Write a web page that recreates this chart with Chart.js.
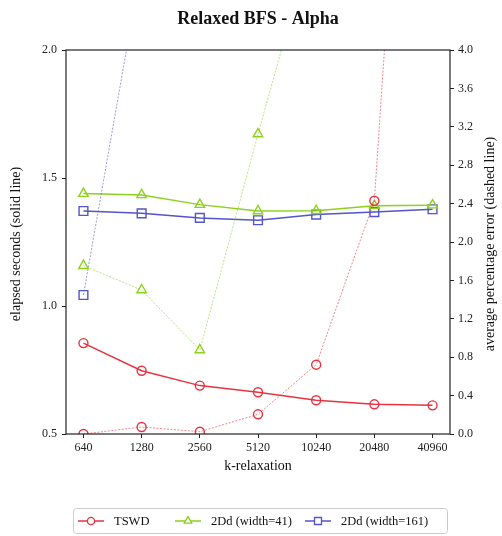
<!DOCTYPE html>
<html>
<head>
<meta charset="utf-8">
<title>Relaxed BFS - Alpha</title>
<script src="https://cdn.jsdelivr.net/npm/chart.js@4/dist/chart.umd.min.js"></script>
<style>
  html, body { margin: 0; padding: 0; background: #fff; }
  canvas { display: block; }
</style>
</head>
<body>
<canvas id="bfsChart" width="502" height="536"></canvas>
<script>
const kValues = ['640', '1280', '2560', '5120', '10240', '20480', '40960'];

// elapsed seconds (left axis, solid lines)
const tswdTime = [0.855, 0.747, 0.689, 0.663, 0.632, 0.616, 0.612];
const w41Time = [1.439, 1.434, 1.396, 1.371, 1.372, 1.392, 1.394];
const w161Time = [1.371, 1.362, 1.344, 1.335, 1.357, 1.367, 1.378];

// average percentage error (right axis, dashed lines)
const tswdError = [0.0, 0.073, 0.024, 0.205, 0.722, 2.43, 11.5];
const w41Error = [1.753, 1.5, 0.875, 3.125, 5.3, null, null];
const w161Error = [1.448, 4.9, null, null, null, null, null];

const seriesNames = ['TSWD', '2Dd (width=41)', '2Dd (width=161)'];
const timeTicks = [0.5, 1.0, 1.5, 2.0];
const errorTicks = [0.0, 0.4, 0.8, 1.2, 1.6, 2.0, 2.4, 2.8, 3.2, 3.6, 4.0];

const COLORS = ['#e5333f', '#8cd11e', '#5454cc'];
const FADED = ['rgba(229, 51, 63, 0.75)', 'rgba(140, 209, 30, 0.75)', 'rgba(84, 84, 204, 0.75)'];
const MARKERS = ['circle', 'triangle', 'rect'];
const RADII = [4.5, 5.5, 6.2];
const FONT = "'Liberation Serif', 'DejaVu Serif', serif";

function toPoints(values) {
  return values.map((v, i) => ({ x: i, y: v }));
}

function solidSet(idx, values) {
  return {
    label: seriesNames[idx],
    data: toPoints(values),
    yAxisID: 'yTime',
    borderColor: COLORS[idx],
    backgroundColor: 'rgba(0,0,0,0)',
    borderWidth: 1.5,
    pointStyle: MARKERS[idx],
    pointRadius: RADII[idx],
    pointBorderWidth: 1.4,
    pointBorderColor: COLORS[idx],
    pointBackgroundColor: 'rgba(0,0,0,0)',
    tension: 0,
  };
}

function dashedSet(idx, values) {
  return {
    label: seriesNames[idx] + ' error',
    data: toPoints(values),
    yAxisID: 'yError',
    borderColor: FADED[idx],
    backgroundColor: 'rgba(0,0,0,0)',
    borderWidth: 0.8,
    borderDash: [2, 1.5],
    pointStyle: MARKERS[idx],
    pointRadius: RADII[idx],
    pointBorderWidth: 1.4,
    pointBorderColor: COLORS[idx],
    pointBackgroundColor: 'rgba(0,0,0,0)',
    tension: 0,
    spanGaps: false,
  };
}

// title, frame, rotated axis titles and the boxed legend
const decorations = {
  id: 'decorations',
  afterDatasetsDraw(chart) {
    const { ctx, chartArea: a } = chart;
    ctx.save();
    ctx.strokeStyle = '#222';
    ctx.lineWidth = 1.2;
    ctx.strokeRect(a.left, a.top, a.right - a.left, a.bottom - a.top);
    ctx.restore();
  },
  afterDraw(chart) {
    const { ctx, chartArea: a } = chart;
    ctx.save();
    ctx.fillStyle = '#111';
    ctx.textAlign = 'center';
    ctx.textBaseline = 'middle';

    ctx.font = 'bold 18px ' + FONT;
    ctx.fillText('Relaxed BFS - Alpha', (a.left + a.right) / 2, 19);

    ctx.font = '14px ' + FONT;
    ctx.fillText('k-relaxation', (a.left + a.right) / 2, 466);

    const midY = (a.top + a.bottom) / 2 + 2;
    ctx.save();
    ctx.translate(16, midY);
    ctx.rotate(-Math.PI / 2);
    ctx.fillText('elapsed seconds (solid line)', 0, 0);
    ctx.restore();

    ctx.save();
    ctx.translate(490, midY);
    ctx.rotate(-Math.PI / 2);
    ctx.fillText('average percentage error (dashed line)', 0, 0);
    ctx.restore();

    // legend
    ctx.strokeStyle = '#cccccc';
    ctx.lineWidth = 1;
    ctx.beginPath();
    ctx.roundRect(73.5, 508.5, 374, 25, 3);
    ctx.stroke();

    const starts = [78, 175, 305];
    const ly = 521;
    ctx.font = '12.5px ' + FONT;
    ctx.textAlign = 'left';
    seriesNames.forEach((name, i) => {
      const x0 = starts[i];
      ctx.strokeStyle = COLORS[i];
      ctx.lineWidth = 1.5;
      ctx.beginPath();
      ctx.moveTo(x0, ly);
      ctx.lineTo(x0 + 26, ly);
      ctx.stroke();
      ctx.fillStyle = '#fff';
      ctx.lineWidth = 1.3;
      Chart.helpers.drawPoint(ctx, {
        pointStyle: MARKERS[i],
        radius: RADII[i] * 0.8,
        borderWidth: 1.3,
        rotation: 0,
      }, x0 + 13, ly);
      ctx.fillStyle = '#111';
      ctx.fillText(name, x0 + 36, ly + 0.5);
    });
    ctx.restore();
  }
};

const tickFont = { family: FONT, size: 12 };

new Chart(document.getElementById('bfsChart'), {
  type: 'line',
  data: {
    datasets: [
      dashedSet(0, tswdError),
      dashedSet(1, w41Error),
      dashedSet(2, w161Error),
      solidSet(0, tswdTime),
      solidSet(1, w41Time),
      solidSet(2, w161Time),
    ]
  },
  options: {
    responsive: false,
    animation: false,
    layout: { padding: { top: 50, left: 0, right: 0, bottom: 0 } },
    plugins: {
      legend: { display: false },
      title: { display: false },
      tooltip: { enabled: false }
    },
    scales: {
      x: {
        type: 'linear',
        min: -0.3,
        max: 6.3,
        afterBuildTicks: s => { s.ticks = kValues.map((_, i) => ({ value: i })); },
        afterFit: s => { s.height = 102; },
        ticks: {
          callback: v => kValues[v],
          font: tickFont,
          color: '#222',
          padding: 3,
          maxRotation: 0,
        },
        grid: { drawOnChartArea: false, tickLength: 4, color: '#222' },
        border: { display: false }
      },
      yTime: {
        type: 'linear',
        position: 'left',
        min: 0.5,
        max: 2.0,
        afterBuildTicks: s => { s.ticks = timeTicks.map(v => ({ value: v })); },
        afterFit: s => { s.width = 66; },
        ticks: {
          callback: v => v.toFixed(1),
          font: tickFont,
          color: '#222',
          padding: 5,
        },
        grid: { drawOnChartArea: false, tickLength: 4, color: '#222' },
        border: { display: false }
      },
      yError: {
        type: 'linear',
        position: 'right',
        min: 0.0,
        max: 4.0,
        afterBuildTicks: s => { s.ticks = errorTicks.map(v => ({ value: v })); },
        afterFit: s => { s.width = 52; },
        ticks: {
          callback: v => v.toFixed(1),
          font: tickFont,
          color: '#222',
          padding: 4,
        },
        grid: { drawOnChartArea: false, tickLength: 4, color: '#222' },
        border: { display: false }
      }
    }
  },
  plugins: [decorations]
});
</script>
</body>
</html>
